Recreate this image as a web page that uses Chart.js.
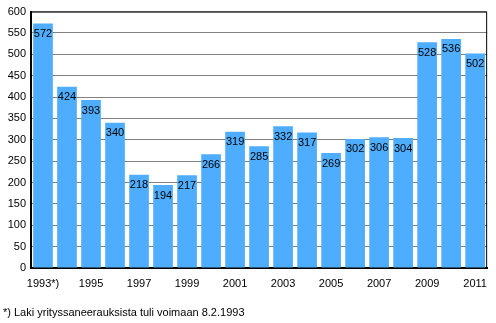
<!DOCTYPE html>
<html>
<head>
<meta charset="utf-8">
<script src="https://cdn.jsdelivr.net/npm/chart.js@4"></script>
<style>
  body { margin: 0; background: #fff; }
  #wrap { position: relative; width: 496px; height: 323px; }
  #note {
    position: absolute; left: 3px; top: 306px;
    font: 11px "Liberation Sans", Arial, sans-serif; color: #000;
  }
</style>
</head>
<body>
<div id="wrap">
  <canvas id="barChart" width="496" height="323"></canvas>
  <div id="note">*) Laki yrityssaneerauksista tuli voimaan 8.2.1993</div>
</div>
<script>
// Dữ liệu biểu đồ
const years = ["1993*)", "1994", "1995", "1996", "1997", "1998", "1999", "2000",
  "2001", "2002", "2003", "2004", "2005", "2006", "2007", "2008", "2009", "2010", "2011"];
const cases = [572, 424, 393, 340, 218, 194, 217, 266, 319, 285, 332, 317, 269,
  302, 306, 304, 528, 536, 502];
const yTicks = [0, 50, 100, 150, 200, 250, 300, 350, 400, 450, 500, 550, 600];

const FONT = "'Liberation Sans', Arial, sans-serif";

// Vẽ nhãn giá trị bên trong đầu mỗi cột
const valueLabels = {
  id: "valueLabels",
  afterDatasetsDraw(chart) {
    const ctx = chart.ctx;
    const meta = chart.getDatasetMeta(0);
    ctx.save();
    ctx.font = "11px " + FONT;
    ctx.fillStyle = "#000";
    ctx.textAlign = "center";
    ctx.textBaseline = "top";
    meta.data.forEach((bar, i) => {
      ctx.fillText(String(cases[i]), bar.x, bar.y + 5);
    });
    ctx.restore();
  },
};

// Khung trên và bên phải của vùng vẽ
const frameLines = {
  id: "frameLines",
  afterDraw(chart) {
    const { ctx, chartArea: a } = chart;
    ctx.save();
    ctx.strokeStyle = "#000";
    ctx.lineWidth = 1;
    ctx.beginPath();
    ctx.moveTo(a.left, a.top + 0.5);
    ctx.lineTo(a.right - 0.5, a.top + 0.5);
    ctx.lineTo(a.right - 0.5, a.bottom);
    ctx.stroke();
    ctx.restore();
  },
};

const ctx = document.getElementById("barChart").getContext("2d");
new Chart(ctx, {
  type: "bar",
  data: {
    labels: years,
    datasets: [
      {
        data: cases,
        backgroundColor: "rgb(79,173,255)",
        borderWidth: 0,
        barPercentage: 0.82,
        categoryPercentage: 1,
      },
    ],
  },
  options: {
    responsive: false,
    animation: false,
    layout: { padding: { top: 8, right: 1, left: 0, bottom: 0 } },
    plugins: {
      legend: { display: false },
      tooltip: { enabled: false },
    },
    scales: {
      x: {
        grid: { display: false, drawTicks: false },
        border: { color: "#000", width: 2 },
        ticks: {
          autoSkip: false,
          maxRotation: 0,
          padding: 9,
          color: "#000",
          font: { family: FONT, size: 11 },
          callback: (v, i) => (i % 2 === 0 ? years[i] : ""),
        },
        afterFit: (scale) => { scale.height = 55; },
      },
      y: {
        min: 0,
        max: 600,
        afterBuildTicks: (scale) => { scale.ticks = yTicks.map((v) => ({ value: v })); },
        grid: { color: "#808080", drawTicks: false },
        border: { color: "#000", width: 2 },
        ticks: {
          padding: 5,
          color: "#000",
          font: { family: FONT, size: 11 },
        },
        afterFit: (scale) => { scale.width = 31; },
      },
    },
  },
  plugins: [valueLabels, frameLines],
});
</script>
</body>
</html>
